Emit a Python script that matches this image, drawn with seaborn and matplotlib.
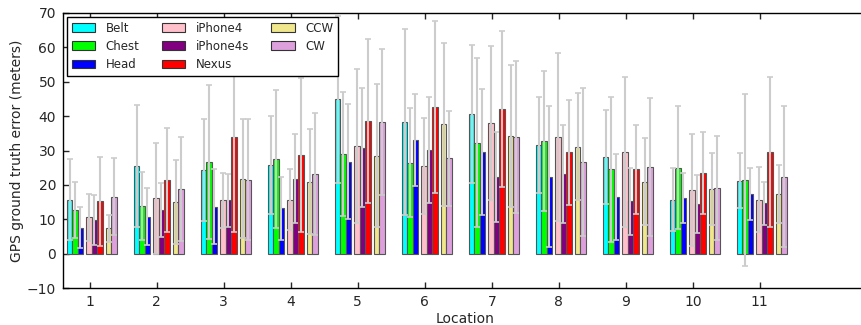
import numpy as np
import pandas as pd
import matplotlib
matplotlib.use("Agg")
import matplotlib.pyplot as plt
from matplotlib.patches import Patch
import seaborn as sns

locations = np.arange(1, 12)
devices = ["Belt", "Chest", "Head", "iPhone4", "iPhone4s", "Nexus", "CCW", "CW"]
colors = ["#00ffff", "#00ff00", "#0000ff", "#ffc0cb", "#800080", "#ff0000", "#f0e68c", "#dda0dd"]

# mean error per location (meters)
belt = [15.7, 25.5, 24.3, 25.8, 44.9, 38.3, 40.6, 31.6, 28.1, 15.7, 21.2]
chest = [12.8, 13.9, 26.7, 27.5, 29.0, 26.5, 32.3, 32.8, 24.5, 25.0, 21.5]
head = [7.6, 10.8, 13.7, 13.2, 26.8, 33.1, 29.5, 22.4, 16.6, 16.2, 17.4]
iphone4 = [10.6, 16.2, 15.5, 15.7, 31.3, 25.5, 37.9, 34.0, 29.5, 18.5, 15.7]
iphone4s = [9.9, 12.8, 15.5, 21.8, 30.8, 30.1, 22.4, 23.2, 15.2, 14.5, 14.7]
nexus = [15.2, 21.5, 34.0, 28.7, 38.6, 42.6, 42.1, 29.5, 24.5, 23.5, 29.5]
ccw = [7.4, 15.0, 21.8, 21.0, 28.5, 37.6, 34.3, 31.1, 21.0, 18.8, 17.4]
cw = [16.6, 18.8, 21.5, 23.2, 38.3, 27.8, 34.0, 26.7, 25.2, 19.1, 22.4]

# standard deviation per location
belt_sd = [11.8, 17.7, 14.8, 14.2, 24.2, 26.9, 19.9, 13.8, 13.7, 9.2, 8.0]
chest_sd = [8.1, 9.8, 22.4, 20.1, 18.1, 15.8, 24.5, 20.3, 21.0, 17.9, 24.9]
head_sd = [6.0, 8.2, 10.9, 9.2, 16.7, 13.3, 18.3, 20.4, 12.5, 7.2, 7.5]
iphone4_sd = [6.8, 16.1, 7.9, 8.9, 22.3, 13.9, 22.3, 24.4, 21.8, 16.2, 9.5]
iphone4s_sd = [7.2, 7.9, 7.7, 12.9, 17.3, 15.4, 13.1, 14.3, 9.7, 8.4, 6.2]
nexus_sd = [12.9, 15.1, 27.7, 22.3, 23.8, 24.9, 22.6, 15.2, 13.0, 12.0, 21.8]
ccw_sd = [3.9, 12.2, 17.3, 15.2, 20.8, 23.6, 20.6, 15.5, 12.6, 10.4, 8.3]
cw_sd = [11.2, 15.1, 17.6, 17.6, 21.1, 13.8, 22.1, 21.4, 19.9, 15.2, 20.5]

means = [belt, chest, head, iphone4, iphone4s, nexus, ccw, cw]
sds = [belt_sd, chest_sd, head_sd, iphone4_sd, iphone4s_sd, nexus_sd, ccw_sd, cw_sd]

# left edge of each bar relative to the location tick
offsets = [-0.34, -0.26, -0.18, -0.05, 0.03, 0.11, 0.24, 0.32]
bar_w = 0.08

sns.set_style("white")
plt.rcParams.update({
    "xtick.direction": "in", "ytick.direction": "in",
    "xtick.top": True, "ytick.right": True,
    "xtick.bottom": True, "ytick.left": True,
    "xtick.major.size": 4, "ytick.major.size": 4,
    "xtick.major.pad": 5, "ytick.major.pad": 5,
    "axes.edgecolor": "black", "axes.linewidth": 1.0,
})
plt.rcParams["font.family"] = ["DejaVu Sans"]

fig = plt.figure(figsize=(8.61, 3.25), dpi=100)
ax = fig.add_axes([63 / 861, 36.7 / 325, 12.0 * 67 / 861, 275.6 / 325])

for name, col, m, sd, off in zip(devices, colors, means, sds, offsets):
    df = pd.DataFrame({"pos": locations + off + bar_w / 2, "error": m})
    sns.barplot(data=df, x="pos", y="error", native_scale=True, width=bar_w,
                color=col, saturation=1, edgecolor="#555555", linewidth=0.8,
                errorbar=None, ax=ax)
    ax.errorbar(df["pos"], df["error"], yerr=sd, fmt="none", ecolor="#cccccc",
                elinewidth=1.5, capsize=2.5, capthick=1.2, zorder=5)

ax.set_xlim(0.6, 12.6)
ax.set_ylim(-10, 70)
ax.set_xticks(locations)
ax.set_xticklabels([str(i) for i in locations])
ax.set_yticks(np.arange(-10, 71, 10))
ax.tick_params(labelsize=10, width=1)
ax.set_xlabel("Location", fontsize=10, labelpad=2)
ax.set_ylabel("GPS ground truth error (meters)", fontsize=10, labelpad=2)

handles = [Patch(facecolor=c, edgecolor="#333333", linewidth=0.8) for c in colors]
leg = ax.legend(handles, devices, ncol=3, loc="upper left", fontsize=8.5,
                fancybox=False, framealpha=1, edgecolor="black",
                handlelength=2.0, handleheight=0.75, handletextpad=0.85,
                columnspacing=1.9, borderaxespad=0.35, labelspacing=0.45)
leg.get_frame().set_linewidth(1.0)
leg.set_zorder(10)

fig.savefig("out.png", dpi=100)
